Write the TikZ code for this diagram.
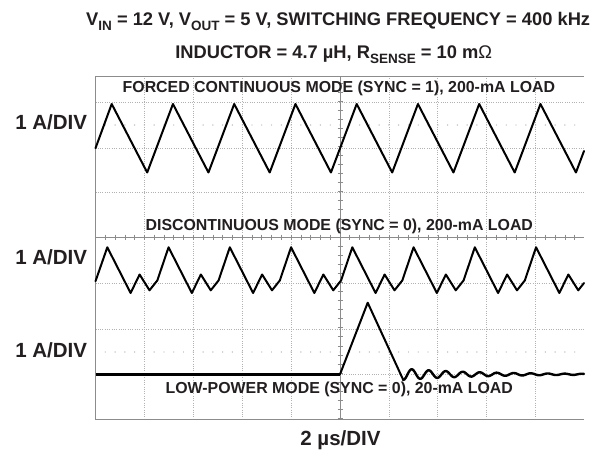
\documentclass[tikz,border=0pt]{standalone}
\usepackage{fontspec}
\setmainfont{Liberation Sans}
\definecolor{gridc}{RGB}{178,178,178}
\definecolor{axisc}{RGB}{140,140,140}
\definecolor{txt}{RGB}{35,31,32}
\newcommand{\mysub}[1]{\raisebox{-0.25em}{\fontsize{13.5}{14}\selectfont #1}}
\begin{document}
\begin{tikzpicture}[x=1pt,y=-1pt,
  gridline/.style={gridc, line width=0.7pt, dash pattern=on 1pt off 1.3pt},
  frameline/.style={axisc, line width=0.9pt},
  tickline/.style={axisc, line width=0.6pt},
  trace/.style={black, line width=2pt, line join=round, line cap=round},
  titlef/.style={inner sep=0pt, anchor=base, text=txt, font=\bfseries\fontsize{18.3}{20}\selectfont},
  lbl/.style={inner sep=0pt, anchor=base, text=txt, font=\bfseries\fontsize{15.9}{18}\selectfont},
  divl/.style={inner sep=0pt, anchor=base east, text=txt, font=\bfseries\fontsize{20.5}{22}\selectfont}]
\useasboundingbox (0,0) rectangle (608,460);
\fill[white] (0,0) rectangle (608,460);

% grid
\foreach \i in {1,2,3,4,6,7,8,9}
  \draw[gridline] ({95.5+48.9*\i},76) -- ({95.5+48.9*\i},419.5);
\foreach \yy in {102.5,148,192.5,283,329,374.3}
  \draw[gridline] (95.5,\yy) -- (584,\yy);
% minor dot rows
\foreach \i in {-24,...,24} {
  \fill[gridc] ({340+9.78*\i},125) circle (0.7pt);
  \fill[gridc] ({340+9.78*\i},352) circle (0.7pt);
}
% centre axes with ticks
\draw[frameline] (340,76) -- (340,419.5);
\draw[frameline] (95.5,237) -- (584,237);
\foreach \i in {-24,...,24}
  \draw[tickline] ({340+9.78*\i},234.5) -- ++(0,5);
\foreach \i in {-17,...,20}
  \draw[tickline] (337.5,{237+9.07*\i}) -- ++(5,0);
% frame
\draw[frameline] (584,76) -- (95.5,76) -- (95.5,419.5) -- (584,419.5);

% trace 1: forced continuous
\draw[trace] (95.5,148.2)
  \foreach \k in {0,...,7} { -- ({111.7+61.25*\k},104) -- ({147.2+61.25*\k},172.5) }
  -- (584,151);

% trace 2: discontinuous
\draw[trace] (95.5,281.2)
  \foreach \k in {0,...,6} { -- ({107.3+61.25*\k},247.3) -- ({130.6+61.25*\k},293)
     -- ({139.6+61.25*\k},274.5) -- ({149.5+61.25*\k},290.3) -- ({157.3+61.25*\k},280.5) }
  -- (536.05,247.3) -- (559.35,293) -- (568.35,274.5) -- (578.25,290.3) -- (584,283);

% trace 3: low power
\draw[trace, line width=2.7pt, line cap=butt] (95.5,374.3) -- (340,374.3);
\draw[trace] (340,374.3) -- (367.7,302.7) -- (403.3,380);
\draw[trace, line width=2.4pt] plot[domain=0:180.7, samples=160]
  ({403.3+\x},{374.3+5.7*exp(-\x/75)*cos(21.176*\x)});

% texts
\node[titlef] (t1) at (338.2,26) {V\mysub{IN} = 12 V, V\mysub{OUT} = 5 V, SWITCHING FREQUENCY = 400 kHz};
\node[titlef] (t2) at (333.7,59) {INDUCTOR = 4.7 µH, R\mysub{SENSE} = 10 m\textmd{Ω}};
\node[lbl] (l1) at (338.9,92.7) {FORCED CONTINUOUS MODE (SYNC = 1), 200-mA LOAD};
\node[lbl] (l2) at (339.3,230.5) {DISCONTINUOUS MODE (SYNC = 0), 200-mA LOAD};
\node[lbl] (l3) at (339.3,393.3) {LOW-POWER MODE (SYNC = 0), 20-mA LOAD};
\node[divl] (d1) at (87.3,129.5) {1 A/DIV};
\node[divl] (d2) at (87.3,264) {1 A/DIV};
\node[divl] (d3) at (87.3,357.3) {1 A/DIV};
\node[titlef, font=\bfseries\fontsize{20.5}{22}\selectfont] (xl) at (340.5,445) {2 µs/DIV};
\end{tikzpicture}
\end{document}
